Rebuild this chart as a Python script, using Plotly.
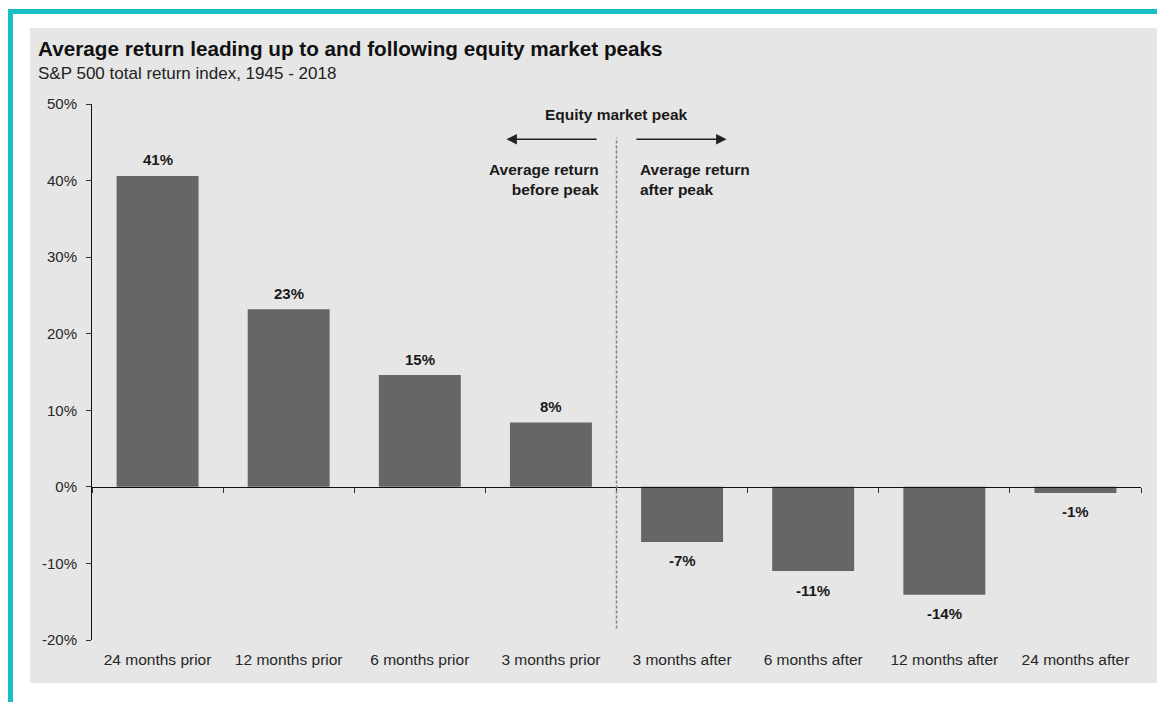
import plotly.graph_objects as go

# ---------------- data ----------------
categories = ["24 months prior", "12 months prior", "6 months prior", "3 months prior",
              "3 months after", "6 months after", "12 months after", "24 months after"]
returns = [40.6, 23.2, 14.6, 8.4, -7.2, -11.0, -14.1, -0.8]
labels = ["41%", "23%", "15%", "8%", "-7%", "-11%", "-14%", "-1%"]
y_ticks = [-20, -10, 0, 10, 20, 30, 40, 50]
y_ticktext = [f"{v}%" for v in y_ticks]

title = "Average return leading up to and following equity market peaks"
subtitle = "S&P 500 total return index, 1945 - 2018"
peak_label = "Equity market peak"
before_label = "Average return<br>before peak"
after_label = "Average return<br>after peak"

# ---------------- layout geometry (page pixels; page body has an 8px margin) ----------------
OFF = 8
W, H = 1165 - OFF, 702 - OFF
PLOT_X0, PLOT_X1, PLOT_Y0, PLOT_Y1 = 92, 1141, 104, 640   # page pixels
L, T = PLOT_X0 - OFF, PLOT_Y0 - OFF
R, B = W - (PLOT_X1 - OFF), H - (PLOT_Y1 - OFF)
PW, PH = W - L - R, H - T - B


def px(x):
    return (x - OFF - L) / PW


def py(y):
    return (H - B - (y - OFF)) / PH


FONT = "Liberation Sans, Arial, sans-serif"
BAR = "#666666"
PANEL = "#e6e6e6"
TEAL = "#19bfc4"
TXT = "#1a1a1a"

ymin, ymax = y_ticks[0], y_ticks[-1]
n = len(categories)
peak_pos = n / 2 - 0.5

fig = go.Figure()
fig.add_trace(go.Bar(x=categories, y=returns, marker=dict(color=BAR, line=dict(width=0)),
                     width=0.625, hoverinfo="skip", showlegend=False))
# helper trace for the zero-line axis with category boundary ticks
fig.add_trace(go.Scatter(x=[-0.5, n - 0.5], y=[0, 0], xaxis="x2", mode="lines",
                         line=dict(width=0), opacity=0, hoverinfo="skip", showlegend=False))

annotations = []
for c, v, t in zip(categories, returns, labels):
    annotations.append(dict(x=c, y=v, xref="x", yref="y", text=f"<b>{t}</b>", showarrow=False,
                            yanchor="middle", yshift=16 if v >= 0 else -19,
                            font=dict(family=FONT, size=15, color=TXT)))

annotations += [
    dict(x=px(36), y=py(48.5), xref="paper", yref="paper", xanchor="left", yanchor="middle",
         text=f"<b>{title}</b>", showarrow=False, font=dict(family=FONT, size=20.7, color="#111111")),
    dict(x=px(36), y=py(73), xref="paper", yref="paper", xanchor="left", yanchor="middle",
         text=subtitle, showarrow=False, font=dict(family=FONT, size=17, color="#222222")),
    dict(x=peak_pos, y=48.6, xref="x", yref="y", xanchor="center", yanchor="middle",
         text=f"<b>{peak_label}</b>", showarrow=False, font=dict(family=FONT, size=15.5, color=TXT)),
    dict(x=peak_pos, y=40.2, xref="x", yref="y", xanchor="right", yanchor="middle", xshift=-16,
         align="right", text=f"<b>{before_label}</b>", showarrow=False,
         font=dict(family=FONT, size=15.5, color=TXT)),
    dict(x=peak_pos, y=40.2, xref="x", yref="y", xanchor="left", yanchor="middle", xshift=21,
         align="left", text=f"<b>{after_label}</b>", showarrow=False,
         font=dict(family=FONT, size=15.5, color=TXT)),
    # arrows
    dict(x=peak_pos - 0.84, y=45.4, ax=peak_pos - 0.14, ay=45.4, xref="x", yref="y",
         axref="x", ayref="y", text="", showarrow=True, arrowhead=2, arrowsize=1.5,
         arrowwidth=1.4, arrowcolor="#222222", standoff=0, startstandoff=0),
    dict(x=peak_pos + 0.84, y=45.4, ax=peak_pos + 0.14, ay=45.4, xref="x", yref="y",
         axref="x", ayref="y", text="", showarrow=True, arrowhead=2, arrowsize=1.5,
         arrowwidth=1.4, arrowcolor="#222222", standoff=0, startstandoff=0),
]

shapes = [
    dict(type="rect", xref="paper", yref="paper", x0=px(30), x1=px(1161), y0=py(683), y1=py(28),
         fillcolor=PANEL, line=dict(width=0), layer="below"),
    dict(type="rect", xref="paper", yref="paper", x0=px(8), x1=px(1190), y0=py(14), y1=py(9),
         fillcolor=TEAL, line=dict(width=0), layer="below"),
    dict(type="rect", xref="paper", yref="paper", x0=px(8), x1=px(13), y0=py(730), y1=py(9),
         fillcolor=TEAL, line=dict(width=0), layer="below"),
    dict(type="line", xref="x", yref="y", x0=peak_pos, x1=peak_pos, y0=-18.5, y1=45.6,
         line=dict(color="#808080", width=1.5, dash="3px,2px")),
]

fig.update_layout(
    width=W, height=H,
    margin=dict(l=L, r=R, t=T, b=B),
    paper_bgcolor="white", plot_bgcolor="rgba(0,0,0,0)",
    font=dict(family=FONT, color="#333333"),
    bargap=0.375,
    xaxis=dict(type="category", range=[-0.5, n - 0.5], showline=False, ticks="",
               showgrid=False, zeroline=False, tickfont=dict(size=15.5, color="#262626"),
               ticklabelstandoff=8),
    xaxis2=dict(overlaying="x", anchor="free", position=(0 - ymin) / (ymax - ymin),
                range=[-0.5, n - 0.5], tickvals=[i - 0.5 for i in range(n + 1)],
                ticks="outside", ticklen=5, tickcolor="#333333", showticklabels=False,
                showline=True, linecolor="#111111", linewidth=1, showgrid=False, zeroline=False),
    yaxis=dict(range=[ymin, ymax], tickvals=y_ticks, ticktext=y_ticktext, ticks="outside",
               ticklen=5, tickcolor="#333333", showline=True, linecolor="#111111", linewidth=1,
               showgrid=False, zeroline=False, tickfont=dict(size=15, color="#262626"),
               ticklabelstandoff=6),
    annotations=annotations,
    shapes=shapes,
)

fig.write_html("out.html")
